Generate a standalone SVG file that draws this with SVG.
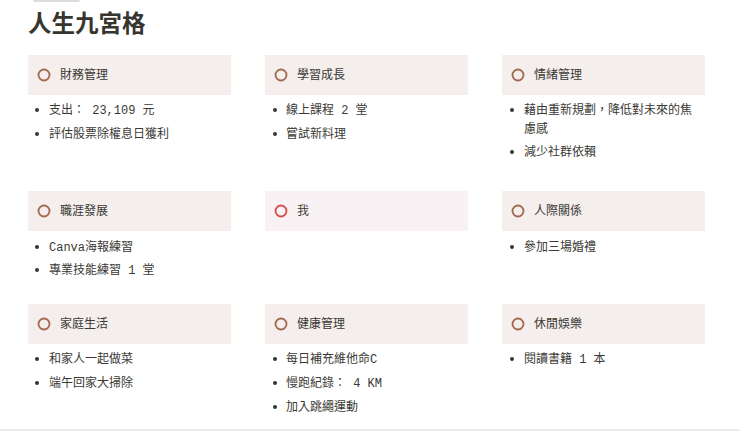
<svg xmlns="http://www.w3.org/2000/svg" width="740" height="431" viewBox="0 0 740 431">
<style>
.title{font-family:"Noto Sans CJK TC","Noto Sans CJK SC",sans-serif;font-size:23.5px;font-weight:700;fill:#37352f}
.hbox{fill:#f4eeed}
.hbox.me{fill:#f9f2f4}
.ring{fill:none;stroke:#a4674f;stroke-width:1.8}
.ring.me{stroke:#d44c47}
.htxt{font-family:"Noto Sans CJK TC","Noto Sans CJK SC",sans-serif;font-size:12px;fill:#3a3934}
.item{font-family:"Liberation Mono","Noto Sans CJK TC","Noto Sans CJK SC",monospace;font-size:12px;fill:#3a3934}
.dot{fill:#37352f}
</style>
<rect x="0" y="0" width="740" height="431" fill="#ffffff"/>
<rect x="33" y="-2" width="47" height="4" rx="2" fill="#dcdcdc"/>
<text class="title" x="28" y="32">人生九宮格</text>
<rect x="0" y="429" width="740" height="2" fill="#ececea"/>

<g id="finance">
<rect class="hbox" x="28" y="55" width="203" height="40"/>
<circle class="ring" cx="44" cy="75" r="5.5"/>
<text class="htxt" x="60" y="79">財務管理</text>
<circle class="dot" cx="37" cy="110" r="2"/><text class="item" x="49" y="114">支出： 23,109 元</text>
<circle class="dot" cx="37" cy="134" r="2"/><text class="item" x="49" y="138">評估股票除權息日獲利</text>
</g>

<g id="learning">
<rect class="hbox" x="265" y="55" width="203" height="40"/>
<circle class="ring" cx="281" cy="75" r="5.5"/>
<text class="htxt" x="297" y="79">學習成長</text>
<circle class="dot" cx="275" cy="110" r="2"/><text class="item" x="286" y="114">線上課程 2 堂</text>
<circle class="dot" cx="275" cy="134" r="2"/><text class="item" x="286" y="138">嘗試新料理</text>
</g>

<g id="emotion">
<rect class="hbox" x="502" y="55" width="203" height="40"/>
<circle class="ring" cx="518" cy="75" r="5.5"/>
<text class="htxt" x="534" y="79">情緒管理</text>
<circle class="dot" cx="512" cy="110" r="2"/><text class="item" x="524" y="114">藉由重新規劃，降低對未來的焦</text>
<text class="item" x="524" y="133">慮感</text>
<circle class="dot" cx="512" cy="152" r="2"/><text class="item" x="524" y="156">減少社群依賴</text>
</g>

<g id="career">
<rect class="hbox" x="28" y="191" width="203" height="40"/>
<circle class="ring" cx="44" cy="211" r="5.5"/>
<text class="htxt" x="60" y="215">職涯發展</text>
<circle class="dot" cx="37" cy="247" r="2"/><text class="item" x="49" y="251">Canva海報練習</text>
<circle class="dot" cx="37" cy="270" r="2"/><text class="item" x="49" y="274">專業技能練習 1 堂</text>
</g>

<g id="me">
<rect class="hbox me" x="265" y="191" width="203" height="40"/>
<circle class="ring me" cx="281" cy="211" r="5.5"/>
<text class="htxt" x="297" y="215">我</text>
</g>

<g id="relations">
<rect class="hbox" x="502" y="191" width="203" height="40"/>
<circle class="ring" cx="518" cy="211" r="5.5"/>
<text class="htxt" x="534" y="215">人際關係</text>
<circle class="dot" cx="512" cy="247" r="2"/><text class="item" x="524" y="251">參加三場婚禮</text>
</g>

<g id="family">
<rect class="hbox" x="28" y="304" width="203" height="40"/>
<circle class="ring" cx="44" cy="324" r="5.5"/>
<text class="htxt" x="60" y="328">家庭生活</text>
<circle class="dot" cx="37" cy="359" r="2"/><text class="item" x="49" y="363">和家人一起做菜</text>
<circle class="dot" cx="37" cy="383" r="2"/><text class="item" x="49" y="387">端午回家大掃除</text>
</g>

<g id="health">
<rect class="hbox" x="265" y="304" width="203" height="40"/>
<circle class="ring" cx="281" cy="324" r="5.5"/>
<text class="htxt" x="297" y="328">健康管理</text>
<circle class="dot" cx="275" cy="359" r="2"/><text class="item" x="286" y="363">每日補充維他命C</text>
<circle class="dot" cx="275" cy="383" r="2"/><text class="item" x="286" y="387">慢跑紀錄： 4 KM</text>
<circle class="dot" cx="275" cy="407" r="2"/><text class="item" x="286" y="411">加入跳繩運動</text>
</g>

<g id="leisure">
<rect class="hbox" x="502" y="304" width="203" height="40"/>
<circle class="ring" cx="518" cy="324" r="5.5"/>
<text class="htxt" x="534" y="328">休閒娛樂</text>
<circle class="dot" cx="512" cy="359" r="2"/><text class="item" x="524" y="363">閱讀書籍 1 本</text>
</g>

<g id="connectors"></g>
</svg>
